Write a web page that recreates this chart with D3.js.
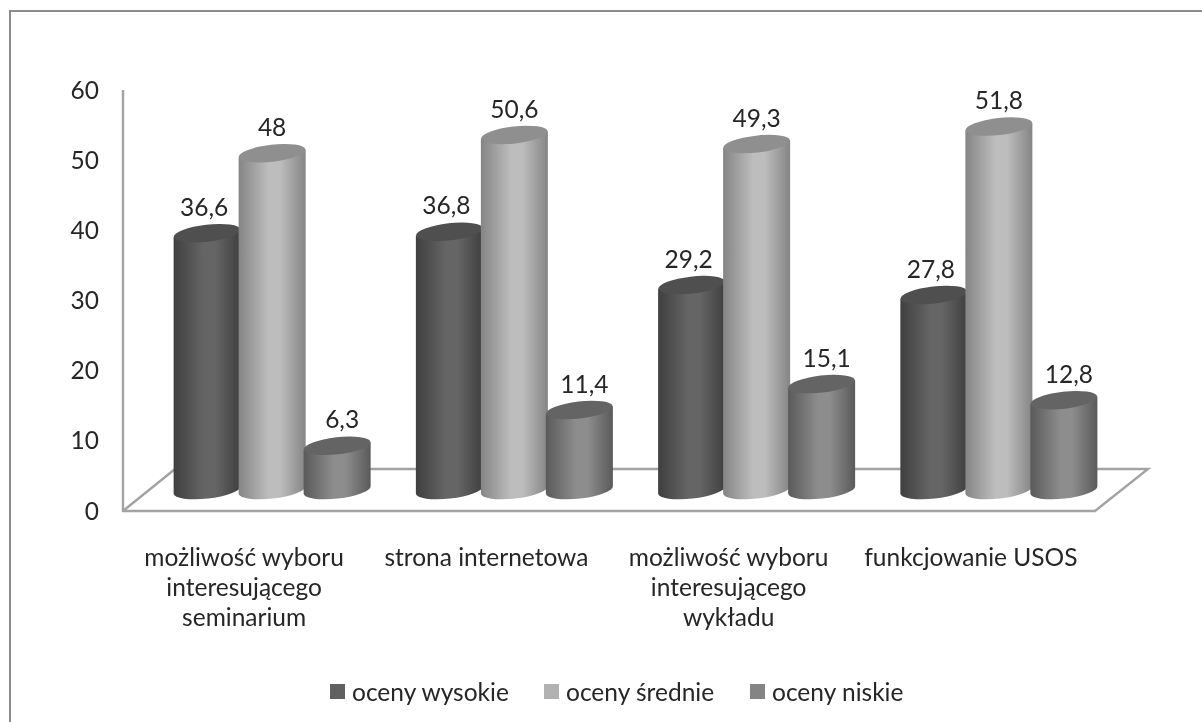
<!DOCTYPE html>
<html><head><meta charset="utf-8">
<script src="https://cdnjs.cloudflare.com/ajax/libs/d3/7.8.5/d3.min.js"></script>
<style>html,body{margin:0;padding:0;background:#fff}svg{display:block;filter:blur(.4px)}text{font-family:Lato,"Noto Sans",sans-serif;fill:#262626}</style>
</head><body><svg id="c" width="1202" height="722"></svg>
<script>
const categories=[["możliwość wyboru","interesującego","seminarium"],["strona internetowa"],["możliwość wyboru","interesującego","wykładu"],["funkcjowanie USOS"]];
const seriesNames=["oceny wysokie","oceny średnie","oceny niskie"];
const wysokie=[36.6,36.8,29.2,27.8];
const srednie=[48,50.6,49.3,51.8];
const niskie=[6.3,11.4,15.1,12.8];
const yTicks=[0,10,20,30,40,50,60];
const series=[wysokie,srednie,niskie];
const palette=[
 {edge:"#3f3f3f",mid:"#656565",top:"#4f4f4f",key:"#606060"},
 {edge:"#858585",mid:"#bdbdbd",top:"#8f8f8f",key:"#b2b2b2"},
 {edge:"#5a5a5a",mid:"#8d8d8d",top:"#646464",key:"#848484"}];

const svg=d3.select("#c");
const fs=24.5;
svg.append("rect").attr("x",10).attr("y",11).attr("width",1300).attr("height",800).attr("fill","#fff").attr("stroke","#8c8c8c").attr("stroke-width",2);

const y=d3.scaleLinear().domain([0,60]).range([511,90]);
const depth=21;
const x=d3.scaleBand().domain(d3.range(4)).range([151,1120]).padding(0);
const inner=d3.scaleBand().domain(d3.range(3)).range([0,195]);
const groupX=i=>x(i)+x.bandwidth()/2-97.5;

const defs=svg.append("defs");
palette.forEach((p,i)=>{
 const g=defs.append("linearGradient").attr("id","g"+i);
 [[0,p.edge],[.45,p.mid],[.62,p.mid],[1,p.edge]].forEach(s=>g.append("stop").attr("offset",s[0]).attr("stop-color",s[1]));
});

const axisCol="#a3a3a3";
const line=d3.line();
svg.append("path").attr("d",line([[123,90],[123,511],[1095,511],[1148,469],[175,469],[123,511]]))
 .attr("fill","none").attr("stroke",axisCol).attr("stroke-width",2.4);

yTicks.forEach(t=>{
 svg.append("text").attr("x",99).attr("y",y(t)).attr("dy",".35em").attr("text-anchor","end")
  .attr("font-size",fs).text(t);
});

const fmt=v=>String(v).replace(".",",");
const rx=33.5, ry=8.5, tilt=-6.5, dy=3.8;
const labelShift=[-3,0,5];
d3.range(4).forEach(c=>{
 series.forEach((s,k)=>{
  const cx=groupX(c)+inner(k)+inner.bandwidth()/2;
  const yt=y(s[c])-depth, yb=y(0)-depth;
  const g=svg.append("g");
  g.append("path").attr("d",`M${cx-rx},${yt+dy}L${cx-rx},${yb+dy}A${rx},${ry} ${tilt} 0 0 ${cx+rx},${yb-dy}L${cx+rx},${yt-dy}Z`)
   .attr("fill",`url(#g${k})`);
  g.append("ellipse").attr("cx",cx).attr("cy",yt).attr("rx",rx).attr("ry",ry)
   .attr("transform",`rotate(${tilt} ${cx} ${yt})`).attr("fill",palette[k].top);
  g.append("text").attr("x",cx+labelShift[k]).attr("y",yt-26).attr("dy",".35em").attr("text-anchor","middle")
   .attr("font-size",fs).text(fmt(s[c]));
 });
});

categories.forEach((lines,c)=>{
 const cx=groupX(c)+97.5-28;
 lines.forEach((l,j)=>{
  svg.append("text").attr("x",cx).attr("y",557+j*30).attr("dy",".35em").attr("text-anchor","middle")
   .attr("font-size",fs).text(l);
 });
});

const legendX=d3.scaleOrdinal().domain(seriesNames).range([330,544,750]);
seriesNames.forEach((n,i)=>{
 svg.append("rect").attr("x",legendX(n)).attr("y",684).attr("width",15).attr("height",15).attr("fill",palette[i].key);
 svg.append("text").attr("x",legendX(n)+22).attr("y",692).attr("dy",".35em").attr("font-size",fs).text(n);
});
</script></body></html>
